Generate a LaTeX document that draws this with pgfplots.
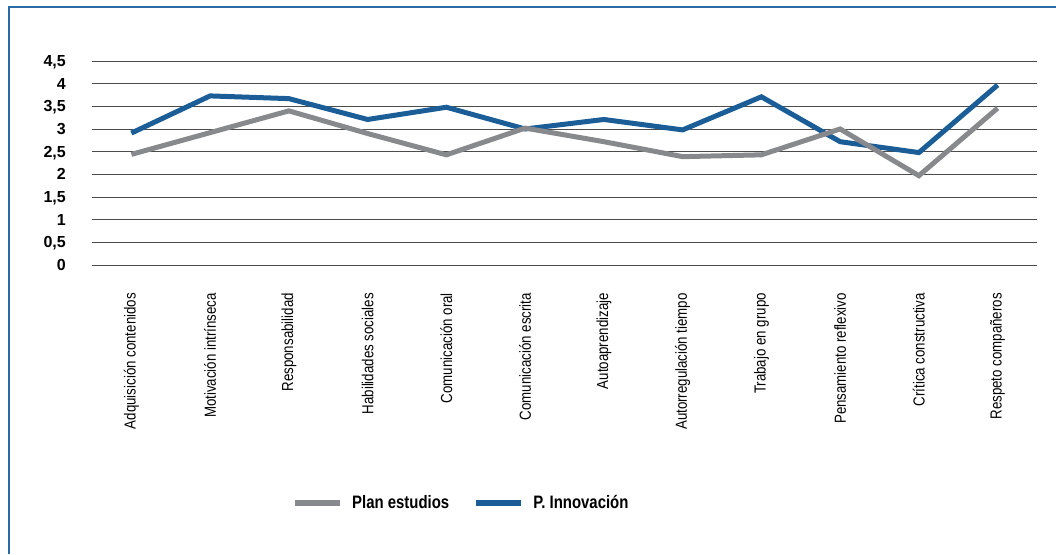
\documentclass[border=0pt]{standalone}
\usepackage{fontspec}
\setmainfont{Liberation Sans}
\newfontfamily\condfont{Liberation Sans}[FakeStretch=0.83]
\usepackage{pgfplots}
\pgfplotsset{compat=1.18}
\definecolor{innov}{HTML}{1B5E97}
\definecolor{plan}{HTML}{88898D}
\definecolor{framec}{HTML}{2A6AA6}
\begin{document}
\begin{tikzpicture}[x=1pt,y=1pt]
\useasboundingbox (0,0) rectangle (1056,554);
\draw[framec, line width=1.5pt] (9,0) -- (9,547) -- (1056,547);
\begin{axis}[
  at={(92pt,289pt)}, anchor=south west,
  scale only axis, width=945pt, height=204pt,
  xmin=-0.5, xmax=11.5, ymin=0, ymax=4.5,
  clip=false,
  ytick={0,0.5,1,1.5,2,2.5,3,3.5,4,4.5},
  xtick={0,1,2,3,4,5,6,7,8,9,10,11},
  xticklabels={Adquisición contenidos,Motivación intrínseca,Responsabilidad,Habilidades sociales,Comunicación oral,Comunicación escrita,Autoaprendizaje,Autorregulación tiempo,Trabajo en grupo,Pensamiento reflexivo,Crítica constructiva,Respeto compañeros},
  ymajorgrids, grid style={black!70, line width=1pt},
  axis line style={draw=none},
  major tick length=0pt,
  yticklabel style={font=\fontsize{16}{16}\selectfont\bfseries, anchor=base east, inner sep=0pt, xshift=-26pt, yshift=-5.6pt},
  xticklabel style={font=\condfont\fontsize{16}{16}\selectfont, rotate=90, anchor=east, inner sep=0pt, xshift=-28pt},
  /pgf/number format/.cd, use comma, fixed, assume math mode=true, /pgfplots/.cd,
  legend columns=2,
  legend image code/.code={\draw[#1] (0pt,0pt) -- (45pt,0pt); \path (54pt,0pt);},
  legend style={draw=none, fill=none, font=\condfont\fontsize{18}{18}\selectfont\bfseries,
    anchor=west, at={(axis description cs:0.2116,-1.1667)}, inner sep=0pt,
    /tikz/every even column/.append style={column sep=24pt},
    nodes={inner sep=0pt}},
]
\addplot[innov, line width=5pt, forget plot] coordinates {
(0,2.91) (1,3.73) (2,3.67) (3,3.21) (4,3.48) (5,3.0) (6,3.21) (7,2.98) (8,3.71) (9,2.72) (10,2.48) (11,3.97)};
\addplot[plan, line width=5pt, forget plot] coordinates {
(0,2.44) (1,2.92) (2,3.40) (3,2.90) (4,2.43) (5,3.02) (6,2.72) (7,2.39) (8,2.43) (9,3.0) (10,1.97) (11,3.46)};
\addlegendimage{plan, line width=6pt}
\addlegendentry{Plan estudios}
\addlegendimage{innov, line width=6pt}
\addlegendentry{P. Innovación}
\end{axis}
\end{tikzpicture}
\end{document}
